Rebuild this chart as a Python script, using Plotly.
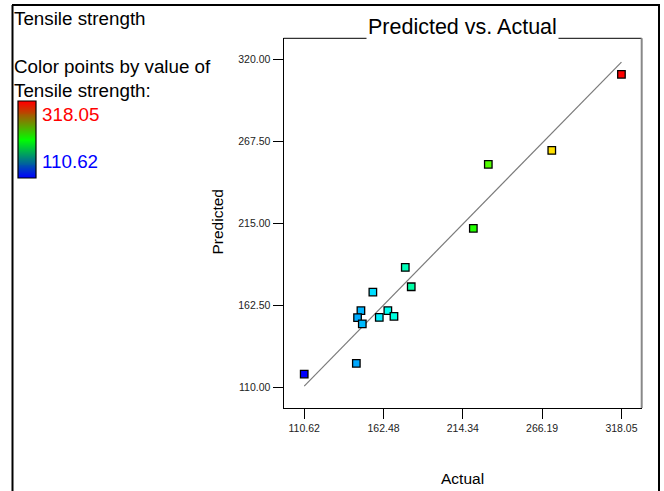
import numpy as np
import plotly.graph_objects as go

# Tensile strength: actual vs. model-predicted values
actual = [318.05, 272.5, 231.0, 221.2, 176.7, 180.6, 155.5, 147.7, 145.5, 148.6, 165.3, 159.7, 169.3, 144.7, 110.62]
predicted = [310.2, 261.5, 252.6, 211.6, 186.6, 174.2, 170.8, 158.9, 154.4, 150.5, 158.9, 154.6, 155.3, 125.2, 118.3]

x_ticks = [110.62, 162.48, 214.34, 266.19, 318.05]
x_tick_text = ["110.62", "162.48", "214.34", "266.19", "318.05"]
y_ticks = [110.0, 162.5, 215.0, 267.5, 320.0]
y_tick_text = ["110.00", "162.50", "215.00", "267.50", "320.00"]

W, H = 664, 491
FONT = "Liberation Sans, Arial, sans-serif"


def px(x):
    return x / W


def py(y):
    return 1 - y / H


# plot box in page pixels
L, R, T, B = 283.5, 641.7, 38.3, 408.0

vmin, vmax = min(actual), max(actual)
point_scale = [[0.0, "rgb(0,0,255)"], [0.25, "rgb(0,255,255)"], [0.5, "rgb(0,255,0)"],
               [0.75, "rgb(255,255,0)"], [1.0, "rgb(255,0,0)"]]
legend_scale = [[0.0, "rgb(0,0,255)"], [0.5, "rgb(0,255,0)"], [1.0, "rgb(255,0,0)"]]

fig = go.Figure()

# 45-degree reference line
fig.add_trace(go.Scatter(
    x=[vmin, vmax], y=[vmin, vmax], mode="lines",
    line=dict(color="#7a7a7a", width=1.2), hoverinfo="skip", showlegend=False,
))

fig.add_trace(go.Scatter(
    x=actual, y=predicted, mode="markers",
    marker=dict(symbol="square", size=7.5, color=actual, colorscale=point_scale,
                cmin=vmin, cmax=vmax, line=dict(color="black", width=1.3)),
    showlegend=False,
))

# gradient bar for the colour key
grad = np.linspace(vmin, vmax, 80)
fig.add_trace(go.Heatmap(
    z=[[v] for v in grad], colorscale=legend_scale, zmin=vmin, zmax=vmax,
    showscale=False, xaxis="x2", yaxis="y2", hoverinfo="skip", zsmooth="best",
))

axis_common = dict(
    ticks="outside", ticklen=10, tickwidth=1, tickcolor="black",
    showgrid=False, zeroline=False, showline=True, linecolor="black", linewidth=1,
    tickfont=dict(family=FONT, size=10.5, color="#222"), automargin=False,
)

fig.update_layout(
    width=W, height=H, template="none",
    margin=dict(l=0, r=0, t=0, b=0),
    paper_bgcolor="white", plot_bgcolor="white",
    xaxis=dict(domain=[px(L), px(R)], range=[97.07, 331.3],
               tickvals=x_ticks, ticktext=x_tick_text, **axis_common),
    yaxis=dict(domain=[py(B), py(T)], range=[96.6, 333.25],
               tickvals=y_ticks, ticktext=y_tick_text, **axis_common),
    xaxis2=dict(domain=[px(18), px(36)], anchor="y2", visible=False),
    yaxis2=dict(domain=[py(178), py(101)], anchor="x2", visible=False),
)

shapes = [
    # top and right edges of the plot box
    dict(type="line", xref="paper", yref="paper", x0=px(L), x1=px(R), y0=py(T), y1=py(T),
         line=dict(color="black", width=1)),
    dict(type="line", xref="paper", yref="paper", x0=px(R), x1=px(R), y0=py(T), y1=py(B),
         line=dict(color="#888", width=2)),
    # outline of the colour key
    dict(type="rect", xref="paper", yref="paper", x0=px(18), x1=px(36), y0=py(178), y1=py(101),
         line=dict(color="black", width=1.2)),
    # page frame
    dict(type="line", xref="paper", yref="paper", x0=px(12.5), x1=px(12.5), y0=py(5), y1=0,
         line=dict(color="black", width=2)),
    dict(type="line", xref="paper", yref="paper", x0=px(12), x1=px(660), y0=py(5), y1=py(5),
         line=dict(color="black", width=2)),
    dict(type="line", xref="paper", yref="paper", x0=px(659), x1=px(659), y0=py(5), y1=0,
         line=dict(color="black", width=2)),
]
fig.update_layout(shapes=shapes)

ann = []


def text(x, y, s, size, color="black", xanchor="left", angle=0, bg=None):
    d = dict(x=px(x), y=py(y), xref="paper", yref="paper", text=s, showarrow=False,
             xanchor=xanchor, yanchor="middle", textangle=angle,
             font=dict(family=FONT, size=size, color=color))
    if bg:
        d["bgcolor"] = bg
    ann.append(d)


text(462.5, 27, "Predicted vs. Actual", 21.5, xanchor="center", bg="white")
text(462, 478, "Actual", 15.5, xanchor="center")
text(216.5, 222, "Predicted", 15.5, xanchor="center", angle=-90)
text(12, 18, "Tensile strength", 18.8)
text(12, 66, "Color points by value of", 18.8)
text(12, 90, "Tensile strength:", 18.8)
text(40, 114, "318.05", 18.8, color="red")
text(40, 161, "110.62", 18.8, color="blue")
fig.update_layout(annotations=ann)

fig.write_html("out.html")
